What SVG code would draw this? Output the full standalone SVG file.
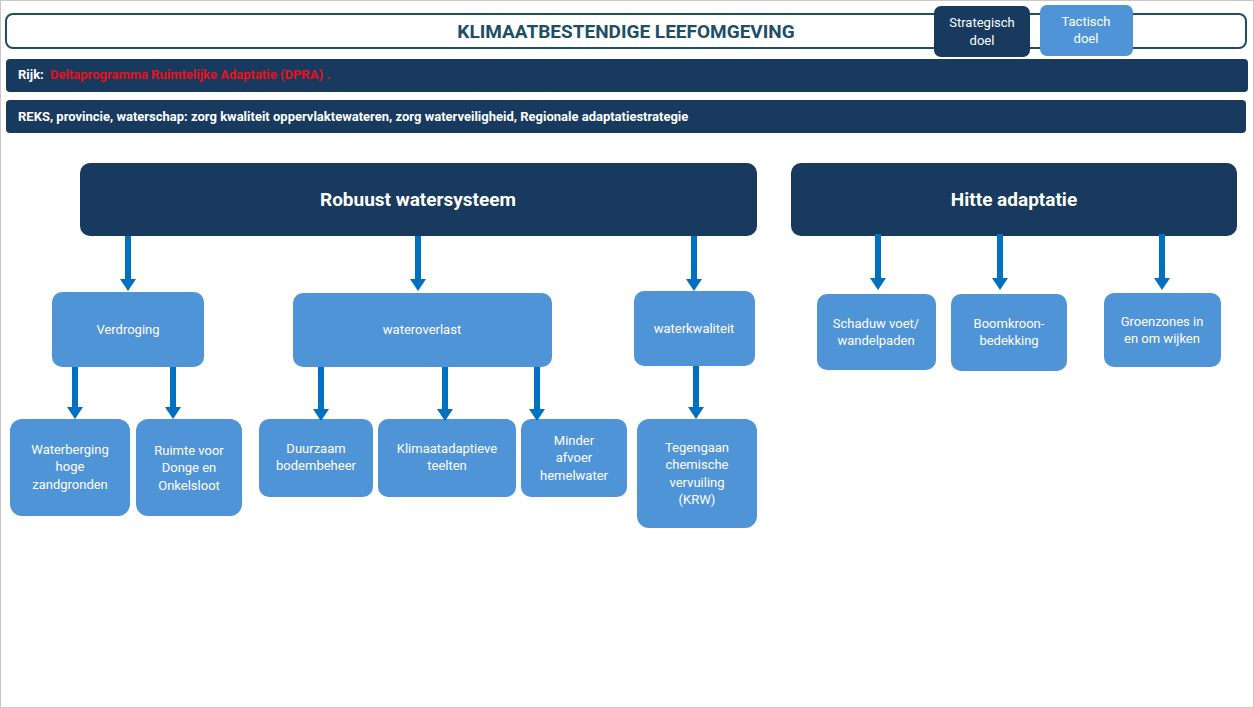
<svg xmlns="http://www.w3.org/2000/svg" width="1254" height="708" viewBox="0 0 1254 708">
<style>
text{font-family:Roboto,"Liberation Sans",sans-serif;text-anchor:middle}
.d{fill:#173a5e}.l{fill:#5094d8}
.w{fill:#fff;font-size:13px}
.h{fill:#fff;font-size:19px;font-weight:bold}
.a{fill:#0070c0}
</style>
<rect x="0.5" y="0.5" width="1253" height="707" fill="#fff" stroke="#c8c8c8"/>
<g id="title"><rect x="6" y="14" width="1240" height="34" rx="7" fill="#fff" stroke="#1d4e66" stroke-width="2"/>
<text x="626" y="38" style="fill:#1d4e66;font-size:19px;font-weight:bold">KLIMAATBESTENDIGE LEEFOMGEVING</text></g>
<g id="legend-strategisch"><rect class="d" x="934" y="6" width="96" height="51" rx="7"/><text class="w" x="982" y="27">Strategisch</text><text class="w" x="982" y="45">doel</text></g>
<g id="legend-tactisch"><rect class="l" x="1040" y="5" width="93" height="51" rx="7"/><text class="w" x="1086" y="26" fill="#e8f0fa">Tactisch</text><text class="w" x="1086" y="43">doel</text></g>
<g id="rijk"><rect class="d" x="6" y="59" width="1242" height="33" rx="4"/><text x="18" y="79" style="text-anchor:start;font-size:13px;font-weight:bold;fill:#fff">Rijk: <tspan fill="#e8101a" dx="3">Deltaprogramma Ruimtelijke Adaptatie (DPRA) .</tspan></text></g>
<g id="reks"><rect class="d" x="6" y="100" width="1240" height="33" rx="4"/><text x="18" y="121" style="text-anchor:start;font-size:13px;font-weight:bold;fill:#fff">REKS, provincie, waterschap: zorg kwaliteit oppervlaktewateren, zorg waterveiligheid, Regionale adaptatiestrategie</text></g>
<g id="robuust"><rect class="d" x="80" y="163" width="677" height="73" rx="10"/><text class="h" x="418" y="206">Robuust watersysteem</text></g>
<g id="hitte"><rect class="d" x="791" y="163" width="446" height="73" rx="10"/><text class="h" x="1014" y="206">Hitte adaptatie</text></g>
<g id="verdroging"><rect class="l" x="52" y="292" width="152" height="75" rx="10"/><text class="w" x="128" y="334">Verdroging</text></g>
<g id="wateroverlast"><rect class="l" x="293" y="293" width="259" height="74" rx="10"/><text class="w" x="422" y="334">wateroverlast</text></g>
<g id="waterkwaliteit"><rect class="l" x="634" y="291" width="121" height="75" rx="10"/><text class="w" x="694" y="333">waterkwaliteit</text></g>
<g id="schaduw"><rect class="l" x="817" y="294" width="119" height="76" rx="10"/><text class="w" x="876" y="328">Schaduw voet/</text><text class="w" x="876" y="345">wandelpaden</text></g>
<g id="boomkroon"><rect class="l" x="951" y="294" width="116" height="77" rx="10"/><text class="w" x="1009" y="328">Boomkroon-</text><text class="w" x="1009" y="345">bedekking</text></g>
<g id="groenzones"><rect class="l" x="1104" y="293" width="117" height="74" rx="10"/><text class="w" x="1162" y="326">Groenzones in</text><text class="w" x="1162" y="343">en om wijken</text></g>
<g id="waterberging"><rect class="l" x="10" y="419" width="120" height="97" rx="12"/><text class="w" x="70" y="454">Waterberging</text><text class="w" x="70" y="471">hoge</text><text class="w" x="70" y="489">zandgronden</text></g>
<g id="ruimte"><rect class="l" x="136" y="419" width="106" height="97" rx="12"/><text class="w" x="189" y="455">Ruimte voor</text><text class="w" x="189" y="472">Donge en</text><text class="w" x="189" y="490">Onkelsloot</text></g>
<g id="duurzaam"><rect class="l" x="259" y="419" width="114" height="78" rx="10"/><text class="w" x="316" y="453">Duurzaam</text><text class="w" x="316" y="470">bodembeheer</text></g>
<g id="klimaat"><rect class="l" x="378" y="419" width="138" height="78" rx="10"/><text class="w" x="447" y="453">Klimaatadaptieve</text><text class="w" x="447" y="470">teelten</text></g>
<g id="minder"><rect class="l" x="521" y="419" width="106" height="78" rx="10"/><text class="w" x="574" y="445">Minder</text><text class="w" x="574" y="462">afvoer</text><text class="w" x="574" y="480">hemelwater</text></g>
<g id="tegengaan"><rect class="l" x="637" y="419" width="120" height="109" rx="12"/><text class="w" x="697" y="452">Tegengaan</text><text class="w" x="697" y="469">chemische</text><text class="w" x="697" y="487">vervuiling</text><text class="w" x="697" y="504">(KRW)</text></g>
<g id="connectors" class="a">
<path d="M125 236V279H120L128 291L136 279H131V236Z"/>
<path d="M415 236V279H410L418 291L426 279H421V236Z"/>
<path d="M691 236V279H686L694 291L702 279H697V236Z"/>
<path d="M875 234V278H870L878 290L886 278H881V234Z"/>
<path d="M997 234V278H992L1000 290L1008 278H1003V234Z"/>
<path d="M1159 234V278H1154L1162 290L1170 278H1165V234Z"/>
<path d="M72 367V407H67L75 419L83 407H78V367Z"/>
<path d="M170 367V407H165L173 419L181 407H176V367Z"/>
<path d="M318 367V409H313L321 421L329 409H324V367Z"/>
<path d="M442 367V409H437L445 421L453 409H448V367Z"/>
<path d="M534 367V409H529L537 421L545 409H540V367Z"/>
<path d="M693 366V407H688L696 419L704 407H699V366Z"/>
</g>
</svg>
